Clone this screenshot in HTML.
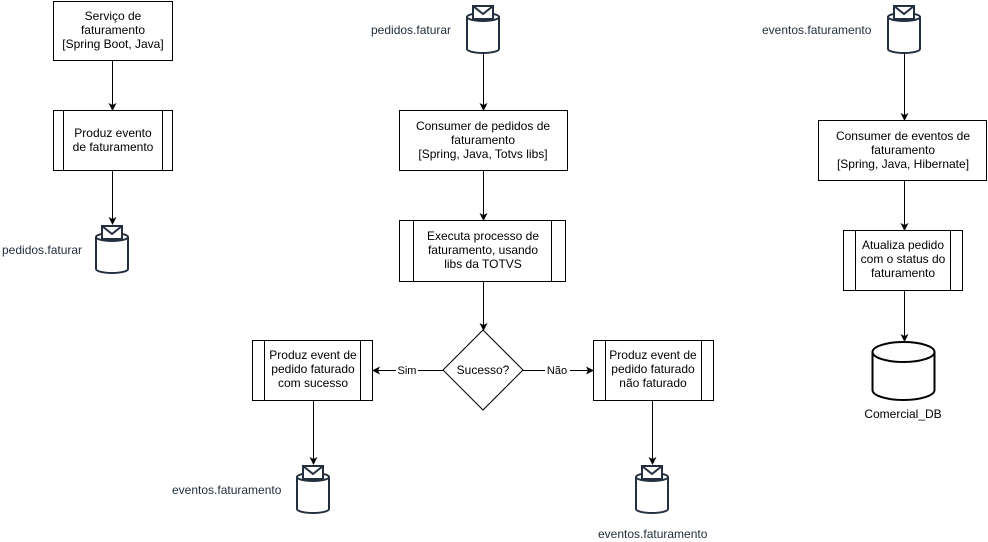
<!DOCTYPE html>
<html><head><meta charset="utf-8"><style>
html,body{margin:0;padding:0;background:#fff;}
svg{display:block;}
text{font-family:"Liberation Sans",Arial,sans-serif;font-size:12px;fill:#000;}
.q text{fill:#232F3E;}
</style></head><body>
<svg width="988" height="542" viewBox="0 0 988 542" xmlns="http://www.w3.org/2000/svg">
<defs>
<marker id="a" markerWidth="8" markerHeight="8" refX="7" refY="4" orient="auto" markerUnits="userSpaceOnUse">
<path d="M0,0 L8,4 L0,8 L2,4 z" fill="#000"/></marker>
<g id="q" fill="#fff" stroke="#232F3E" stroke-width="2">
<path d="M-16,11 L-16,43 A16,4 0 0 0 16,43 L16,11"/>
<ellipse cx="0" cy="11" rx="16" ry="4"/>
<rect x="-10" y="0" width="20" height="13" fill="#fff"/>
<path d="M-10,0 L0,8 L10,0" fill="none"/>
</g>
</defs>
<g fill="#fff" stroke="#000" stroke-width="1">
<rect x="53.5" y="1.5" width="119" height="59"/>
<rect x="53.5" y="110.5" width="119" height="60"/><line x1="63.5" y1="110.5" x2="63.5" y2="170.5"/><line x1="162.5" y1="110.5" x2="162.5" y2="170.5"/>
<rect x="399.5" y="110.5" width="168" height="60"/>
<rect x="399.5" y="220.5" width="166" height="61"/><line x1="413.5" y1="220.5" x2="413.5" y2="281.5"/><line x1="551.5" y1="220.5" x2="551.5" y2="281.5"/>
<polygon points="483,330 523,370 483,410 443,370"/>
<rect x="252.5" y="340.5" width="120" height="60"/><line x1="264.5" y1="340.5" x2="264.5" y2="400.5"/><line x1="360.5" y1="340.5" x2="360.5" y2="400.5"/>
<rect x="593.5" y="340.5" width="120" height="60"/><line x1="605.5" y1="340.5" x2="605.5" y2="400.5"/><line x1="701.5" y1="340.5" x2="701.5" y2="400.5"/>
<rect x="818.5" y="120.5" width="168" height="60"/>
<rect x="843.5" y="230.5" width="119" height="60"/><line x1="855.5" y1="230.5" x2="855.5" y2="290.5"/><line x1="950.5" y1="230.5" x2="950.5" y2="290.5"/>
<g stroke-width="2">
<path d="M872.5,352 L872.5,390 A31,10 0 0 0 934.5,390 L934.5,352"/>
<ellipse cx="903.5" cy="352" rx="31" ry="10"/>
</g>
</g>
<g stroke="#000" stroke-width="1" fill="none" marker-end="url(#a)">
<line x1="112.5" y1="61" x2="112.5" y2="110"/>
<line x1="112.5" y1="171" x2="112.5" y2="224"/>
<line x1="483.5" y1="54" x2="483.5" y2="110"/>
<line x1="483.5" y1="171" x2="483.5" y2="220"/>
<line x1="483.5" y1="282" x2="483.5" y2="330"/>
<line x1="443" y1="370.5" x2="373" y2="370.5"/>
<line x1="523" y1="370.5" x2="593" y2="370.5"/>
<line x1="313.5" y1="401" x2="313.5" y2="464"/>
<line x1="652.5" y1="401" x2="652.5" y2="464"/>
<line x1="904.5" y1="54" x2="904.5" y2="120"/>
<line x1="904.5" y1="181" x2="904.5" y2="230"/>
<line x1="904.5" y1="291" x2="904.5" y2="341"/>
</g>
<rect x="396" y="363" width="22" height="14" fill="#fff"/>
<text x="407" y="374" text-anchor="middle" style="font-size:11px">Sim</text>
<rect x="545" y="363" width="25" height="14" fill="#fff"/>
<text x="557" y="374" text-anchor="middle" style="font-size:11px">Não</text>
<g class="q">
<use href="#q" x="112" y="226"/>
<use href="#q" x="483" y="6"/>
<use href="#q" x="904" y="6"/>
<use href="#q" x="313" y="466"/>
<use href="#q" x="652" y="466"/>
<text x="2" y="254">pedidos.faturar</text>
<text x="371" y="34">pedidos.faturar</text>
<text x="762" y="34">eventos.faturamento</text>
<text x="172" y="494">eventos.faturamento</text>
<text x="598" y="538">eventos.faturamento</text>
</g>
<g text-anchor="middle">
<text x="113" y="20">Serviço de</text><text x="113" y="34">faturamento</text><text x="113" y="48">[Spring Boot, Java]</text>
<text x="113" y="137">Produz evento</text><text x="113" y="151">de faturamento</text>
<text x="483" y="130">Consumer de pedidos de</text><text x="483" y="144">faturamento</text><text x="483" y="158">[Spring, Java, Totvs libs]</text>
<text x="483" y="240">Executa processo de</text><text x="483" y="254">faturamento, usando</text><text x="483" y="268">libs da TOTVS</text>
<text x="483" y="374">Sucesso?</text>
<text x="313" y="359">Produz event de</text><text x="313" y="373">pedido faturado</text><text x="313" y="387">com sucesso</text>
<text x="653" y="359">Produz event de</text><text x="653" y="373">pedido faturado</text><text x="653" y="387">não faturado</text>
<text x="903" y="140">Consumer de eventos de</text><text x="903" y="154">faturamento</text><text x="903" y="168">[Spring, Java, Hibernate]</text>
<text x="903" y="249">Atualiza pedido</text><text x="903" y="263">com o status do</text><text x="903" y="277">faturamento</text>
<text x="903" y="418">Comercial_DB</text>
</g>
</svg>
</body></html>
